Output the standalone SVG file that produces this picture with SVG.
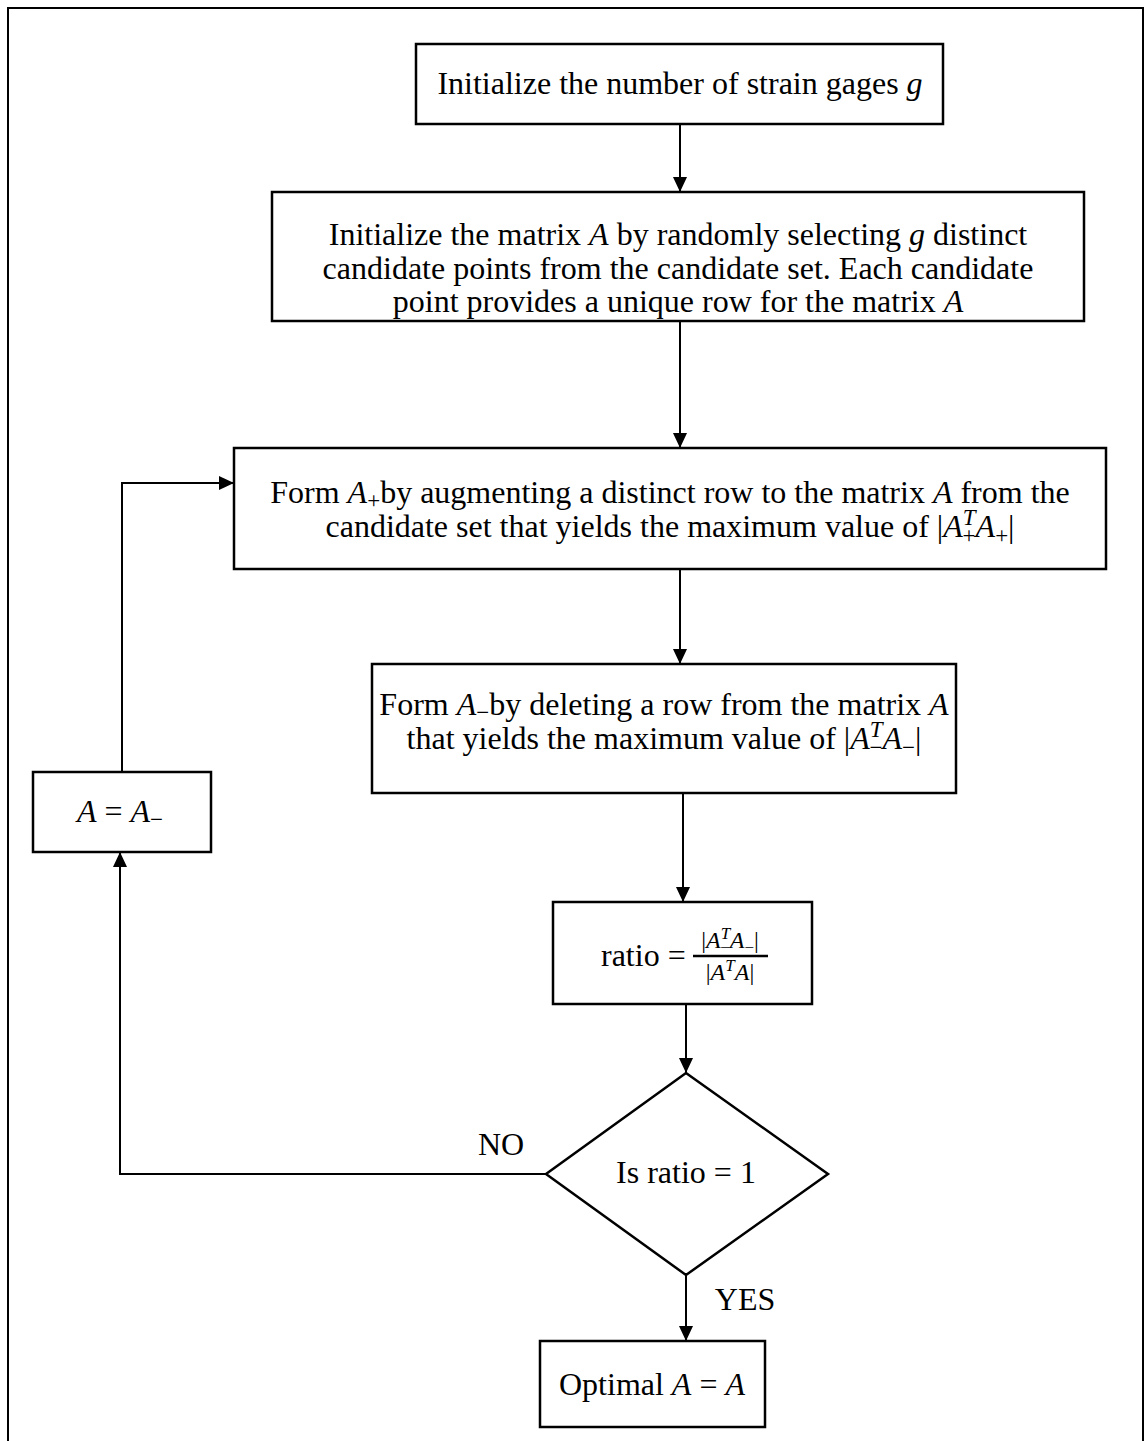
<svg xmlns="http://www.w3.org/2000/svg" width="1146" height="1441" viewBox="0 0 1146 1441">
<style>
.box{fill:#fff;stroke:#000;stroke-width:2.5}
.conn{fill:none;stroke:#000;stroke-width:2}
.t{font-family:"Liberation Serif","Times New Roman",serif;font-size:32px;fill:#000;text-anchor:middle}
.s{text-anchor:start}
.i{font-style:italic}
.sm{font-size:23px}
.fr{font-family:"Liberation Serif","Times New Roman",serif;font-size:24px;fill:#000;text-anchor:middle}
.fs{font-size:17px}
</style>
<defs>
<marker id="ah" viewBox="0 0 15 14" refX="15" refY="7" markerWidth="15" markerHeight="14" markerUnits="userSpaceOnUse" orient="auto">
<path d="M0,0 L15,7 L0,14 z" fill="#000"/>
</marker>
</defs>
<rect width="1146" height="1441" fill="#fff"/>
<path d="M8,1441 V8 H1143 V1441" fill="none" stroke="#000" stroke-width="2"/>

<g id="connectors">
<path class="conn" d="M680,124 V192" marker-end="url(#ah)"/>
<path class="conn" d="M680,321 V448" marker-end="url(#ah)"/>
<path class="conn" d="M680,569 V664" marker-end="url(#ah)"/>
<path class="conn" d="M683,793 V902" marker-end="url(#ah)"/>
<path class="conn" d="M686,1004 V1073" marker-end="url(#ah)"/>
<path class="conn" d="M686,1275 V1341" marker-end="url(#ah)"/>
<path class="conn" d="M546,1174 H120 V852" marker-end="url(#ah)"/>
<path class="conn" d="M122,772 V483 H234" marker-end="url(#ah)"/>
<text class="t" x="501" y="1155">NO</text>
<text class="t" x="745" y="1310">YES</text>
</g>

<g id="n1">
<rect class="box" x="416" y="44" width="527" height="80"/>
<text class="t" x="680" y="94">Initialize the number of strain gages <tspan class="i">g</tspan></text>
</g>

<g id="n2">
<rect class="box" x="272" y="192" width="812" height="129"/>
<text class="t" x="678" y="245">Initialize the matrix <tspan class="i">A</tspan> by randomly selecting <tspan class="i">g</tspan> distinct</text>
<text class="t" x="678" y="279">candidate points from the candidate set. Each candidate</text>
<text class="t" x="678" y="312">point provides a unique row for the matrix <tspan class="i">A</tspan></text>
</g>

<g id="n3">
<rect class="box" x="234" y="448" width="872" height="121"/>
<text class="t" x="670" y="503">Form <tspan class="i">A</tspan><tspan class="sm" dy="5">+</tspan><tspan dy="-5">by augmenting a distinct row to the matrix </tspan><tspan class="i">A</tspan> from the</text>
<text class="t" x="670" y="537">candidate set that yields the maximum value of |<tspan class="i">A</tspan><tspan class="sm i" dy="-12">T</tspan><tspan class="sm" dx="-13" dy="18">+</tspan><tspan class="i" dy="-6">A</tspan><tspan class="sm" dy="6">+</tspan><tspan dy="-6">|</tspan></text>
</g>

<g id="n4">
<rect class="box" x="372" y="664" width="584" height="129"/>
<text class="t" x="664" y="715">Form <tspan class="i">A</tspan><tspan class="sm" dy="5">−</tspan><tspan dy="-5">by deleting a row from the matrix </tspan><tspan class="i">A</tspan></text>
<text class="t" x="664" y="749">that yields the maximum value of |<tspan class="i">A</tspan><tspan class="sm i" dy="-12">T</tspan><tspan class="sm" dx="-13" dy="18">−</tspan><tspan class="i" dy="-6">A</tspan><tspan class="sm" dy="6">−</tspan><tspan dy="-6">|</tspan></text>
</g>

<g id="n5">
<rect class="box" x="553" y="902" width="259" height="102"/>
<text class="t s" x="601" y="966">ratio =</text>
<line x1="693" y1="956" x2="768" y2="956" stroke="#000" stroke-width="2.5"/>
<text class="fr" x="730" y="948">|<tspan class="i">A</tspan><tspan class="i fs" dy="-9">T</tspan><tspan class="fs" dx="-10" dy="14">−</tspan><tspan class="i" dy="-5">A</tspan><tspan class="fs" dy="5">−</tspan><tspan dy="-5">|</tspan></text>
<text class="fr" x="730" y="980">|<tspan class="i">A</tspan><tspan class="i fs" dy="-9">T</tspan><tspan class="i" dy="9">A</tspan>|</text>
</g>

<g id="n6">
<polygon class="box" points="686,1073 828,1174 686,1275 546,1174"/>
<text class="t" x="686" y="1183">Is ratio = 1</text>
</g>

<g id="n7">
<rect class="box" x="33" y="772" width="178" height="80"/>
<text class="t" x="120" y="822" font-size="34"><tspan class="i">A</tspan> = <tspan class="i">A</tspan><tspan class="sm" dy="5">−</tspan></text>
</g>

<g id="n8">
<rect class="box" x="540" y="1341" width="225" height="86"/>
<text class="t" x="652" y="1395">Optimal <tspan class="i">A</tspan> = <tspan class="i">A</tspan></text>
</g>
</svg>
